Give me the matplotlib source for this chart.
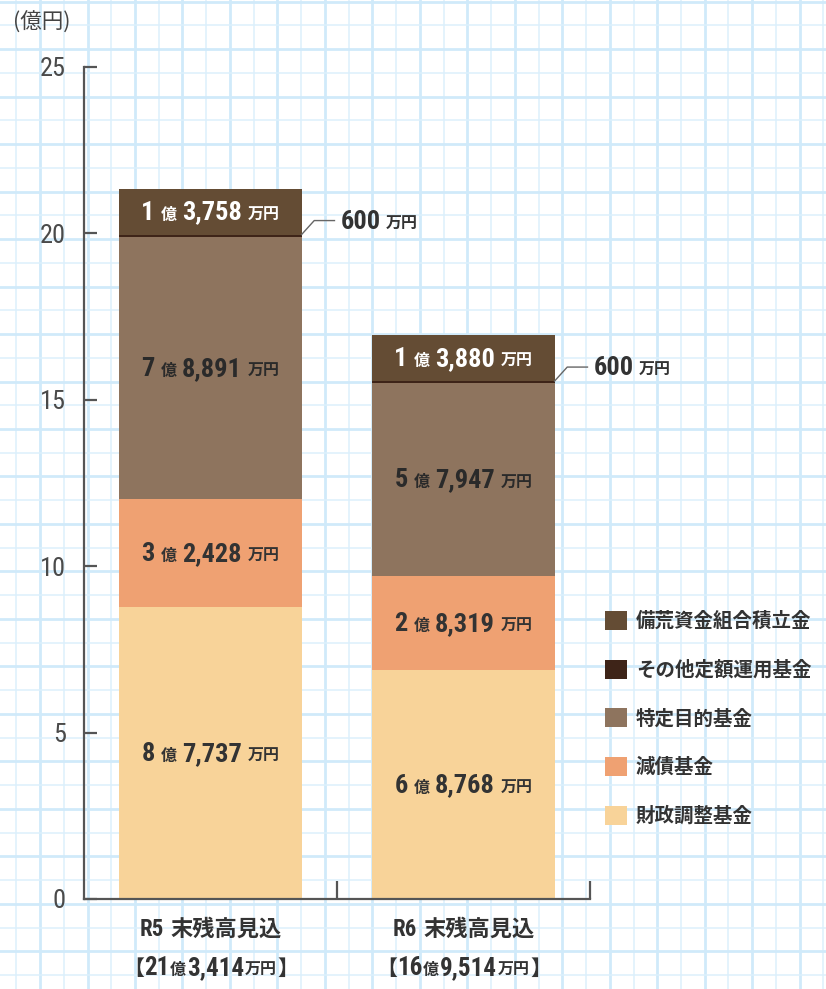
import matplotlib
matplotlib.use('Agg')
import matplotlib.pyplot as plt
from matplotlib import font_manager
import numpy as np

# data (万円)
categories = ['R5', 'R6']
cat_suffix = '末残高見込'
series = ['財政調整基金', '減債基金', '特定目的基金', 'その他定額運用基金', '備荒資金組合積立金']
zaisei = [87737, 68768]
gensai = [32428, 28319]
tokutei = [78891, 57947]
sonota = [600, 600]
bikou = [13758, 13880]
values = [zaisei, gensai, tokutei, sonota, bikou]
colors = ['#f8d399', '#efa172', '#8e745e', '#3e2418', '#644c34']
txt_colors = ['#333333', '#333333', '#2a2a2a', None, '#ffffff']
yticks = [0, 5, 10, 15, 20, 25]

CJK = ['Noto Sans CJK JP', 'DejaVu Sans']
plt.rcParams['font.family'] = CJK

# look for a condensed face for the numbers, else use the CJK font a bit smaller
ttf = font_manager.fontManager.ttflist
NUM, STRETCH, BIG = ['Noto Sans CJK JP', 'DejaVu Sans'], 'normal', 16
for nm in ['Roboto Condensed', 'Liberation Sans Narrow', 'Open Sans Condensed']:
    if any(f.name == nm for f in ttf):
        NUM, BIG = [nm, 'Noto Sans CJK JP'], 19
        break
else:
    if any(f.name == 'DejaVu Sans' and f.stretch == 'condensed' and f.weight in (700, 'bold') for f in ttf):
        NUM, STRETCH, BIG = ['DejaVu Sans', 'Noto Sans CJK JP'], 'condensed', 18

W, H = 826, 989
fig = plt.figure(figsize=(W / 100, H / 100), dpi=100)
fig.patch.set_facecolor('white')

# graph paper background
bg = fig.add_axes([0, 0, 1, 1], zorder=-10)
bg.set_xlim(0, W)
bg.set_ylim(H, 0)
bg.axis('off')
step = 23.74
for k in range(40):
    xv = 16.3 + step * k
    thick = k % 2 == 1
    bg.axvline(xv, color='#d0eafa' if thick else '#dcf0fc', lw=2.0 if thick else 1.1)
for k in range(44):
    yv = 1.7 + step * k
    thick = k % 2 == 0
    bg.axhline(yv, color='#d0eafa' if thick else '#dcf0fc', lw=2.0 if thick else 1.1)

ax = fig.add_axes([84 / W, 1 - 899 / H, (590 - 84) / W, (899 - 67) / H])
ax.patch.set_alpha(0)
ax.set_xlim(0, 2)
ax.set_ylim(0, 25)

x = np.arange(len(categories)) + 0.5
bw = 0.72
bottom = np.zeros(len(categories))
handles = []
for name, vals, col in zip(series, values, colors):
    v = np.array(vals) / 1e4
    b = ax.bar(x, v, bw, bottom=bottom, color=col, label=name, zorder=2, linewidth=0)
    handles.append(b)
    bottom = bottom + v

for s in ['top', 'right']:
    ax.spines[s].set_visible(False)
for s in ['left', 'bottom']:
    ax.spines[s].set_color('#555555')
    ax.spines[s].set_linewidth(1.6)
ax.set_yticks(yticks)
ax.tick_params(axis='y', direction='in', length=9, width=1.6, color='#555555',
               pad=13, labelsize=BIG, labelcolor='#4a4a4a')
for t in ax.get_yticklabels():
    t.set_family(NUM)
    t.set_stretch(STRETCH)
ax.set_xticks(x)
ax.set_xticklabels([])
ax.tick_params(axis='x', which='major', length=0)
ax.set_xticks([1, 2], minor=True)
ax.tick_params(axis='x', which='minor', direction='in', length=13, width=1.6, color='#555555')

fig.text(13 / W, 1 - 23 / H, '(億円)', fontsize=15.5, color='#444444', va='center', ha='left')

renderer = fig.canvas.get_renderer()


def mixed_text(xy, parts, coords='data', color='#333333', dy=0, align='center'):
    widths = []
    for s, size, fam, wt, gap in parts:
        st = STRETCH if fam is NUM else 'normal'
        t = ax.text(0, 0, s, fontsize=size, family=fam, weight=wt, stretch=st)
        widths.append(t.get_window_extent(renderer).width)
        t.remove()
    total = sum(widths) + sum(p[4] for p in parts[:-1])
    x0 = -total / 2 if align == 'center' else 0
    for (s, size, fam, wt, gap), w in zip(parts, widths):
        st = STRETCH if fam is NUM else 'normal'
        ax.annotate(s, xy, xycoords=coords, xytext=(x0, dy), textcoords='offset pixels',
                    fontsize=size, family=fam, weight=wt, stretch=st, color=color,
                    ha='left', va='baseline', annotation_clip=False, zorder=5)
        x0 += w + gap


def man_parts(v):
    oku, rest = divmod(v, 10000)
    if oku == 0:
        return [(f'{rest:,}', BIG, NUM, 'bold', 5), ('万円', 11.5, CJK, 'bold', 0)]
    return [(str(oku), BIG, NUM, 'bold', 6), ('億', 11.5, CJK, 'bold', 5),
            (f'{rest:,}', BIG, NUM, 'bold', 6), ('万円', 11.5, CJK, 'bold', 0)]


# labels inside bars
bottom = np.zeros(len(categories))
for vals, tc in zip(values, txt_colors):
    v = np.array(vals) / 1e4
    for i in range(len(categories)):
        if tc is not None:
            mixed_text((x[i], bottom[i] + v[i] / 2), man_parts(vals[i]), color=tc, dy=-8)
    bottom = bottom + v

# leader for small fund
lift = 0.42
base = (np.array(zaisei) + np.array(gensai) + np.array(tokutei) + np.array(sonota)) / 1e4
for i in range(len(categories)):
    edge = x[i] + bw / 2
    ax.plot([edge, edge + 0.05, edge + 0.13], [base[i], base[i] + lift, base[i] + lift],
            color='#666666', lw=1, zorder=4, clip_on=False)
    mixed_text((edge + 0.155, base[i] + lift), man_parts(sonota[i]), align='left', dy=-8)

# category labels
totals = np.sum(values, axis=0)
for i, c in enumerate(categories):
    mixed_text((x[i], H - 928), [(c, 16.5, NUM, 'bold', 7), (cat_suffix, 16, CJK, 'bold', 0)],
               coords=('data', 'figure pixels'), dy=-8)
    oku, rest = divmod(int(totals[i]), 10000)
    mixed_text((x[i], H - 967),
               [('【', 15, CJK, 'bold', 0), (str(oku), 18, NUM, 'bold', 1),
                ('億', 11.5, CJK, 'bold', 1), (f'{rest:,}', 18, NUM, 'bold', 1),
                ('万円', 11.5, CJK, 'bold', 0), ('】', 15, CJK, 'bold', 0)],
               coords=('data', 'figure pixels'), dy=-8)

leg = fig.legend(handles[::-1], series[::-1], loc='upper left',
                 bbox_to_anchor=(605 / W, 1 - 611 / H), frameon=False,
                 prop={'family': CJK, 'size': 14, 'weight': 'bold'},
                 handlelength=1.13, handleheight=1.13, handletextpad=0.45,
                 labelspacing=1.47, borderpad=0, borderaxespad=0)
for t in leg.get_texts():
    t.set_color('#333333')

fig.savefig('out.png', dpi=100)
